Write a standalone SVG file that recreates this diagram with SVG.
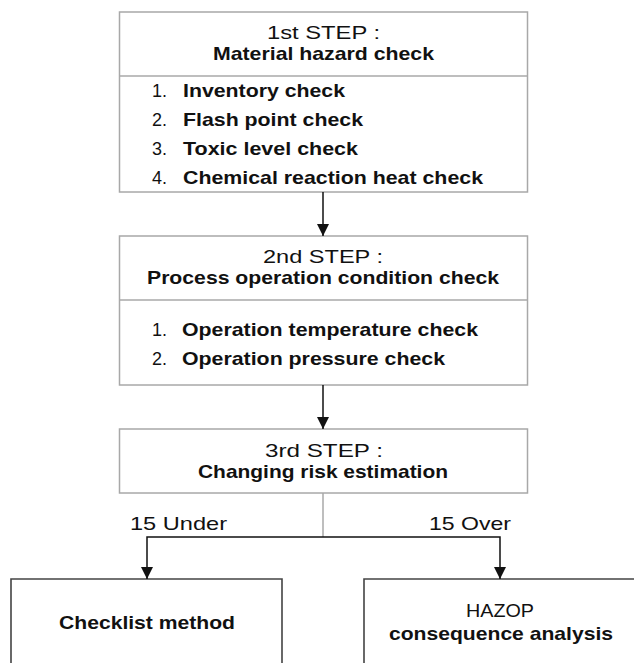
<svg xmlns="http://www.w3.org/2000/svg" width="634" height="663" viewBox="0 0 634 663">
<defs>
<marker id="ah" viewBox="0 0 12 12" refX="12" refY="6" markerWidth="12" markerHeight="12" markerUnits="userSpaceOnUse" orient="auto">
<path d="M0,0 L12,6 L0,12 Z" fill="#111"/>
</marker>
<style>
.box{fill:#fff;stroke:#a8a8a8;stroke-width:1.5}
.dbox{fill:#fff;stroke:#444;stroke-width:1.6}
.div{stroke:#a8a8a8;stroke-width:1.5}
text{font-family:"Liberation Sans",Arial,sans-serif;fill:#111;font-size:18.5px}
.t{text-anchor:middle}
.b{font-weight:bold}
.arr{stroke:#111;stroke-width:1.5;fill:none}
.gl{stroke:#a8a8a8;stroke-width:1.5;fill:none}
</style>
</defs>
<rect width="634" height="663" fill="#fff"/>
<g id="step1">
<rect class="box" x="119.5" y="12" width="408" height="180"/>
<line class="div" x1="119.5" y1="76" x2="527.5" y2="76"/>
<text class="t" x="323.5" y="39" textLength="113" lengthAdjust="spacingAndGlyphs">1st  STEP  :</text>
<text class="t b" x="323.5" y="60" textLength="221" lengthAdjust="spacingAndGlyphs">Material hazard check</text>
<text x="152" y="97" textLength="15" lengthAdjust="spacingAndGlyphs">1.</text><text class="b" x="183" y="97" textLength="162" lengthAdjust="spacingAndGlyphs">Inventory check</text>
<text x="152" y="126" textLength="15" lengthAdjust="spacingAndGlyphs">2.</text><text class="b" x="183" y="126" textLength="180" lengthAdjust="spacingAndGlyphs">Flash point check</text>
<text x="152" y="155" textLength="15" lengthAdjust="spacingAndGlyphs">3.</text><text class="b" x="183" y="155" textLength="175" lengthAdjust="spacingAndGlyphs">Toxic level check</text>
<text x="152" y="184" textLength="15" lengthAdjust="spacingAndGlyphs">4.</text><text class="b" x="183" y="184" textLength="300" lengthAdjust="spacingAndGlyphs">Chemical reaction heat check</text>
</g>
<g id="step2">
<rect class="box" x="119.5" y="236" width="408" height="149"/>
<line class="div" x1="119.5" y1="300" x2="527.5" y2="300"/>
<text class="t" x="323" y="263" textLength="120" lengthAdjust="spacingAndGlyphs">2nd  STEP  :</text>
<text class="t b" x="323" y="284" textLength="352" lengthAdjust="spacingAndGlyphs">Process operation condition check</text>
<text x="152" y="336" textLength="15" lengthAdjust="spacingAndGlyphs">1.</text><text class="b" x="182" y="336" textLength="296" lengthAdjust="spacingAndGlyphs">Operation temperature check</text>
<text x="152" y="365" textLength="15" lengthAdjust="spacingAndGlyphs">2.</text><text class="b" x="182" y="365" textLength="263" lengthAdjust="spacingAndGlyphs">Operation pressure check</text>
</g>
<g id="step3">
<rect class="box" x="119.5" y="429" width="408" height="64"/>
<text class="t" x="324" y="457" textLength="118" lengthAdjust="spacingAndGlyphs">3rd  STEP  :</text>
<text class="t b" x="323" y="478" textLength="250" lengthAdjust="spacingAndGlyphs">Changing risk estimation</text>
</g>
<g id="checklist">
<path class="dbox" d="M11,664 V579 H282 V664"/>
<text class="t b" x="147" y="629" textLength="176" lengthAdjust="spacingAndGlyphs">Checklist method</text>
</g>
<g id="hazop">
<path class="dbox" d="M364,664 V579 H635"/>
<text class="t" x="500" y="617" textLength="68" lengthAdjust="spacingAndGlyphs">HAZOP</text>
<text class="t b" x="501" y="640" textLength="224" lengthAdjust="spacingAndGlyphs">consequence analysis</text>
</g>
<g id="connectors">
<line class="arr" x1="323" y1="192" x2="323" y2="236" marker-end="url(#ah)"/>
<line class="arr" x1="323" y1="385" x2="323" y2="429" marker-end="url(#ah)"/>
<line class="gl" x1="323" y1="493" x2="323" y2="537"/>
<path class="arr" d="M323,537 H147 V579" marker-end="url(#ah)"/>
<path class="arr" d="M323,537 H500 V579" marker-end="url(#ah)"/>
<text x="130" y="530" textLength="97" lengthAdjust="spacingAndGlyphs">15  Under</text>
<text x="429" y="530" textLength="82" lengthAdjust="spacingAndGlyphs">15  Over</text>
</g>
</svg>
